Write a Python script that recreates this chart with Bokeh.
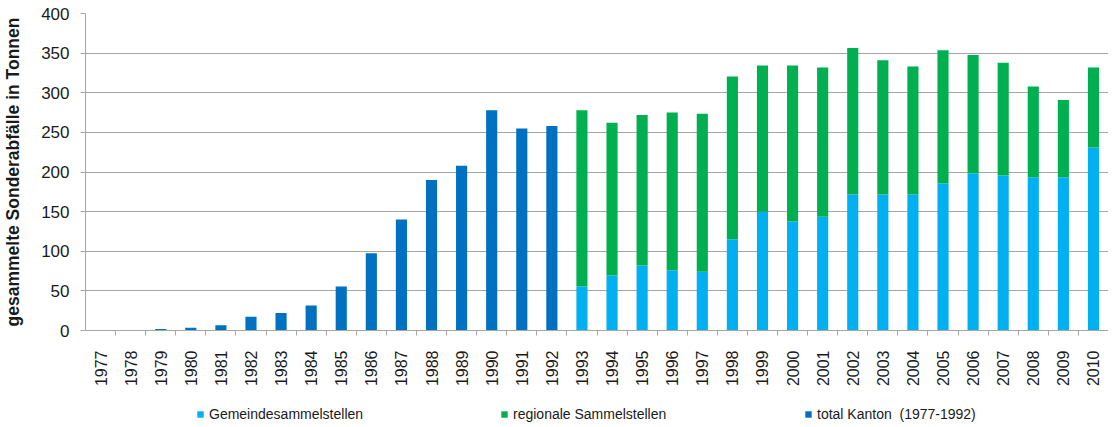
import math
from bokeh.plotting import figure
from bokeh.layouts import column
from bokeh.models import (ColumnDataSource, FactorRange, Range1d, CategoricalAxis,
                          FixedTicker, Legend, LegendItem, CategoricalScale)
from bokeh.embed import file_html
from bokeh.resources import INLINE

# ---- data ----
years = ["1977", "1978", "1979", "1980", "1981", "1982", "1983", "1984", "1985", "1986",
         "1987", "1988", "1989", "1990", "1991", "1992", "1993", "1994", "1995", "1996",
         "1997", "1998", "1999", "2000", "2001", "2002", "2003", "2004", "2005", "2006",
         "2007", "2008", "2009", "2010"]
kanton_years = years[:16]
kanton_total = [0.5, 0.5, 2, 3.5, 6.5, 17.5, 22, 31.5, 55.5, 97.5,
                140, 190, 208, 278, 255, 258]
split_years = years[16:]
gemeinde = [55.5, 69.5, 82, 76, 74, 115, 150, 138, 143.5, 171.5,
            171.5, 171.5, 185.5, 198.5, 195.5, 193.5, 193.5, 231]
regional = [222.5, 192.5, 190, 199, 199.5, 205.5, 184.5, 196.5, 188.5, 185,
            169.5, 161.5, 168, 149, 142.5, 114.5, 97.5, 101]
y_ticks = [0, 50, 100, 150, 200, 250, 300, 350, 400]
legend_labels = ["Gemeindesammelstellen", "regionale Sammelstellen", "total Kanton  (1977-1992)"]

C_GEM = "#00B0F0"
C_REG = "#00B050"
C_KAN = "#0070C0"
GRID = "#A6A6A6"
TXT = "#1a1a1a"
FONT = "Liberation Sans"

p = figure(x_range=FactorRange(factors=years), y_range=Range1d(0, 400),
           width=1108, height=398, output_backend="svg", toolbar_location=None,
           x_axis_location=None, y_axis_location="left",
           min_border_left=85, min_border_right=0, min_border_top=13, min_border_bottom=68)
p.outline_line_color = None
p.xgrid.grid_line_color = None
p.ygrid.grid_line_color = GRID
p.ygrid.grid_line_width = 1
p.ygrid.ticker = FixedTicker(ticks=y_ticks)

# y axis
ya = p.yaxis[0]
ya.ticker = FixedTicker(ticks=y_ticks)
ya.axis_line_color = GRID
ya.major_tick_line_color = GRID
ya.major_tick_out = 5
ya.major_tick_in = 0
ya.minor_tick_line_color = None
ya.major_label_standoff = 11
ya.major_label_text_font = FONT
ya.major_label_text_font_size = "17px"
ya.major_label_text_color = TXT
ya.axis_label = "gesammelte Sonderabfälle in Tonnen"
ya.axis_label_text_font = FONT
ya.axis_label_text_font_style = "bold"
ya.axis_label_text_font_size = "17.5px"
ya.axis_label_text_color = TXT
ya.axis_label_standoff = 15

# x axis: tick marks on category boundaries (extra categorical range shifted by half a slot)
bounds = ["b%d" % i for i in range(len(years) + 1)]
p.extra_x_ranges = {"ticks": FactorRange(factors=bounds, range_padding=-0.5,
                                         range_padding_units="absolute")}
p.extra_x_scales = {"ticks": CategoricalScale()}
tick_axis = CategoricalAxis(x_range_name="ticks", axis_line_color=GRID,
                            major_tick_line_color=GRID, major_tick_out=5, major_tick_in=0,
                            major_label_text_font_size="0px", major_label_text_color=None,
                            major_label_standoff=0)
p.add_layout(tick_axis, "below")
cat_axis = CategoricalAxis(axis_line_color=None, major_tick_line_color=None, major_tick_out=0,
                           major_tick_in=0, major_label_orientation=math.pi / 2,
                           major_label_standoff=15, major_label_text_font=FONT,
                           major_label_text_font_size="16px", major_label_text_color=TXT)
p.add_layout(cat_axis, "below")

# bars
r_kan = p.vbar(x=kanton_years, top=kanton_total, width=0.37, color=C_KAN, line_color=None)
src = ColumnDataSource(dict(year=split_years, gem=gemeinde, reg=regional))
r_gem, r_reg = p.vbar_stack(["gem", "reg"], x="year", source=src, width=0.37,
                            color=[C_GEM, C_REG], line_color=None)

# legend strip below the chart (separate small figure so the legend is not clipped);
# its renderers use the same data, but the y-range keeps those bars out of view
pl = figure(width=1108, height=28, x_range=p.x_range, y_range=Range1d(1000, 1001),
            output_backend="svg", toolbar_location=None,
            x_axis_location=None, y_axis_location=None, min_border=0)
pl.outline_line_color = None
pl.grid.visible = False
l_kan = pl.vbar(x=kanton_years, top=kanton_total, width=0.37, color=C_KAN, line_color=None)
l_gem, l_reg = pl.vbar_stack(["gem", "reg"], x="year", source=src, width=0.37,
                             color=[C_GEM, C_REG], line_color=None)
items = [LegendItem(label=lab, renderers=[r])
         for lab, r in zip(legend_labels, [l_gem, l_reg, l_kan])]
lg = Legend(items=items, location=(111, 3), orientation="horizontal",
            border_line_color=None, background_fill_alpha=0,
            padding=0, margin=0, spacing=119, glyph_width=8, glyph_height=8,
            label_standoff=5, label_width=172, label_height=18,
            label_text_font=FONT, label_text_font_size="14px",
            label_text_color=TXT)
pl.add_layout(lg, "center")

layout = column(p, pl, spacing=0)
open("out.html", "w").write(file_html(layout, INLINE))
